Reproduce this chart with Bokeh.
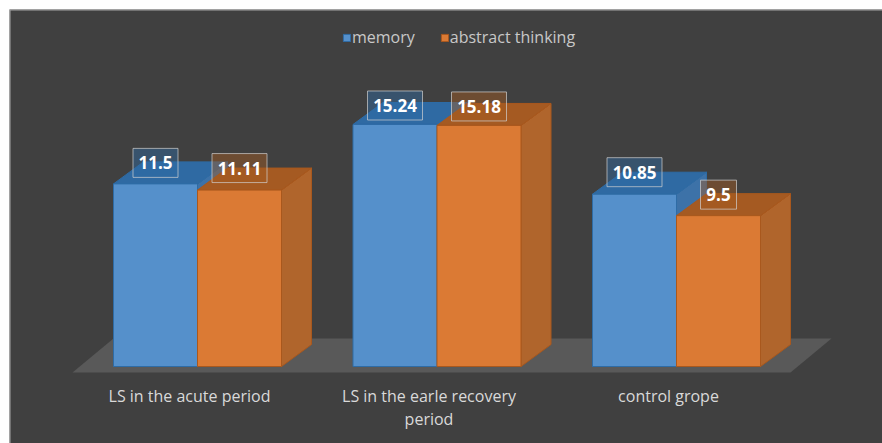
from bokeh.plotting import figure
from bokeh.models import Range1d, FixedTicker, Legend, LegendItem, ColumnDataSource, Span
from bokeh.core.properties import value
from bokeh.embed import file_html
from bokeh.resources import INLINE

categories = ["LS in the acute period", "LS in the earle recovery\nperiod", "control grope"]
memory = [11.5, 15.24, 10.85]
abstract_thinking = [11.11, 15.18, 9.5]
memory_labels = ["11.5", "15.24", "10.85"]
abstract_labels = ["11.11", "15.18", "9.5"]

W, H = 882, 443
LEFT, TOP = 9, 9
FW, FH = W - LEFT, H - TOP
PX_X = 239.5       # pixels per category
PX_Y = 15.88       # pixels per value unit
X0 = 197 - LEFT    # pixel of the first category centre inside the frame
Y0 = 366 - TOP     # pixel of value 0 inside the frame
BAR = 84 / PX_X
DX = 30 / PX_X
DY = 22 / PX_Y
LABEL_SHIFT = 8 / PX_X
FONT = "Open Sans"

p = figure(width=W, height=H, output_backend="svg", toolbar_location=None,
           x_range=Range1d(-X0 / PX_X, (FW - X0) / PX_X),
           y_range=Range1d(-(FH - Y0) / PX_Y, Y0 / PX_Y),
           y_axis_location=None, min_border_left=LEFT, min_border_right=0,
           min_border_top=TOP, min_border_bottom=0,
           background_fill_color="#404040", border_fill_color="#ffffff",
           outline_line_color=None)
p.grid.visible = False

for edge in (Span(location=p.y_range.end, dimension="width"),
             Span(location=p.x_range.start, dimension="height")):
    edge.line_color = "#a6a6a6"
    edge.line_width = 2
    p.add_layout(edge)

f_front = -6 / PX_Y
f_back = 28 / PX_Y

n = len(categories)
ticks = [i - LABEL_SHIFT for i in range(n)]
ax = p.xaxis[0]
ax.fixed_location = f_front
ax.ticker = FixedTicker(ticks=ticks)
ax.major_label_overrides = {t: c for t, c in zip(ticks, categories)}
ax.axis_line_color = None
ax.major_tick_line_color = None
ax.minor_tick_line_color = None
ax.major_label_text_color = "#d9d9d9"
ax.major_label_text_font = FONT
ax.major_label_text_font_size = "16px"
ax.major_label_text_line_height = 1.05
ax.major_label_standoff = 6

# floor
fl_left = -BAR - 41 / PX_X
fl_right = n - 1 + BAR + 30 / PX_X
fl_skew = 41 / PX_X
p.patch([fl_left, fl_right, fl_right + fl_skew, fl_left + fl_skew],
        [f_front, f_front, f_back, f_back], fill_color="#595959", line_color=None)


def faces(lefts, vals, front, top, side, edge):
    rights = [l + BAR for l in lefts]
    p.patches([[r, r + DX, r + DX, r] for r in rights],
              [[0, DY, v + DY, v] for v in vals],
              fill_color=side, line_color=edge, line_width=1)
    p.patches([[l, r, r + DX, l + DX] for l, r in zip(lefts, rights)],
              [[v, v, v + DY, v + DY] for v in vals],
              fill_color=top, line_color=edge, line_width=1)
    src = ColumnDataSource(dict(left=lefts, right=rights, top=vals, bottom=[0] * len(vals)))
    return p.quad(left="left", right="right", top="top", bottom="bottom", source=src,
                  fill_color=front, line_color=edge, line_width=1)


xs = list(range(n))
r1 = faces([x - BAR for x in xs], memory, "#5590CB", "#2F6AA3", "#3D72A8", "#2E6CA6")
r2 = faces(xs, abstract_thinking, "#DB7A34", "#A55A22", "#B0652C", "#A9581D")

legend = Legend(items=[LegendItem(label="memory", renderers=[r1]),
                       LegendItem(label="abstract thinking", renderers=[r2])],
                orientation="horizontal", location=(333, 395),
                background_fill_alpha=0, border_line_alpha=0, margin=0, padding=0,
                glyph_width=9, glyph_height=9, spacing=25, label_standoff=1,
                label_text_color="#c8c8c8", label_text_font=FONT, label_text_font_size="16px")
p.add_layout(legend, "center")


def labels(centres, vals, texts, fill, offsets):
    widths = [{4: 45, 5: 55}.get(len(t), 36) for t in texts]
    ys = [v + o / PX_Y for v, o in zip(vals, offsets)]
    p.rect(x=centres, y=ys, width=widths, height=[29] * len(vals),
           width_units="screen", height_units="screen",
           fill_color=fill, fill_alpha=0.45, line_color="#d0d0d0", line_alpha=0.7, line_width=1)
    p.text(x=centres, y=ys, text=texts, text_align="center", text_baseline="middle",
           text_color="#ffffff", text_font=value(FONT), text_font_size="17px",
           text_font_style="bold")


labels([x - BAR / 2 for x in xs], memory, memory_labels, "#2F6AA3", [21, 19, 22])
labels([x + BAR / 2 for x in xs], abstract_thinking, abstract_labels, "#A55A22", [22, 19, 21])

open("out.html", "w").write(file_html(p, INLINE))
